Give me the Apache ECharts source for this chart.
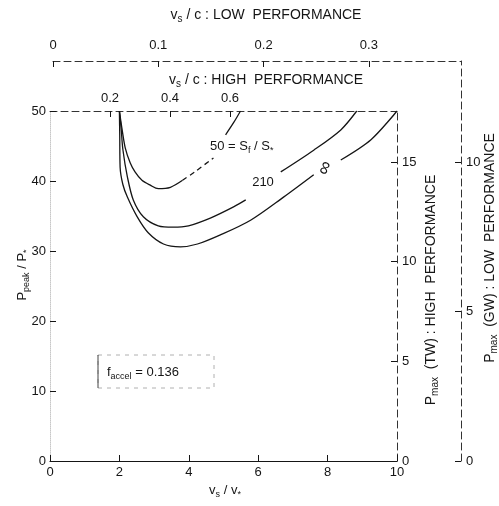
<!DOCTYPE html>
<html><head><meta charset="utf-8">
<script src="https://cdn.jsdelivr.net/npm/echarts@6/dist/echarts.min.js"></script>
<style>html,body{margin:0;padding:0;background:#fff}#c{width:499px;height:506px}</style>
</head><body><div id="c"></div>
<script>
// ---- data ----
// S_f/S_* = 50 curve (solid part, gap for label, top part)
const s50X = [2.0, 2.08, 2.17, 2.31, 2.45, 2.65, 2.89, 3.12, 3.47, 3.82, '-', 5.06, 5.3, 5.49];
const s50Y = [50, 47.3, 44.7, 42.6, 41.3, 40.1, 39.4, 38.9, 39.1, 40.1, '-', 46.6, 48.4, 50];
// dashed stretch of the 50 curve
const s50dashX = [3.82, 4.2, 4.71];
const s50dashY = [40.1, 41.4, 43.3];
// S_f/S_* = 210 curve
const s210X = [2.0, 2.05, 2.1, 2.23, 2.40, 2.69, 3.12, 3.55, 3.99, 4.62, 5.29, 5.64, '-', 6.65, 7.60, 8.38, 8.84];
const s210Y = [50, 47.5, 44.5, 40.6, 37.3, 34.9, 33.6, 33.4, 33.6, 34.7, 36.3, 37.3, '-', 41.3, 44.4, 47.3, 50];
// S_f/S_* = infinity curve
const sInfX = [2.0, 2.01, 2.02, 2.1, 2.23, 2.51, 2.83, 3.27, 3.76, 4.25, 4.91, 5.78, 6.73, 7.6, '-', 8.38, 9.25, 10];
const sInfY = [50, 46.5, 42.0, 39.5, 37.7, 34.9, 32.6, 31.0, 30.6, 31.0, 32.3, 34.4, 37.7, 40.9, '-', 43.0, 45.9, 50];
// tick labels
const bottomTicks = [0, 2, 4, 6, 8, 10];
const leftTicks = [0, 10, 20, 30, 40, 50];
const highPerfTicks = [0.2, 0.4, 0.6];
const lowPerfTicks = [0, 0.1, 0.2, 0.3];
const twTicks = [0, 5, 10, 15];
const gwTicks = [0, 5, 10];

const FF = "'Liberation Sans', Arial, sans-serif";
const INK = '#151515';
const pairs = (xs, ys) => xs.map((x, i) => (x === '-' ? ['-', '-'] : [x, ys[i]]));

const chart = echarts.init(document.getElementById('c'), null, {renderer: 'canvas'});

const lbl = (extra) => Object.assign({color: INK, fontSize: 13, fontFamily: FF}, extra || {});
const dashedLine = {show: true, onZero: false, lineStyle: {color: '#333', width: 1, type: [7, 4]}};

const rich = (size) => ({
  m: {fontSize: size, fontFamily: FF, fill: INK, color: INK, lineHeight: size + 5, verticalAlign: 'middle'},
  s: {fontSize: Math.round(size * 0.7), fontFamily: FF, fill: INK, color: INK, lineHeight: 9, verticalAlign: 'bottom'}
});

const txt = (x, y, text, size, rot, align, bg) => ({
  type: 'text', x: x, y: y, rotation: rot || 0, z: 100,
  style: Object.assign({
    text: text, rich: rich(size), align: align || 'center', verticalAlign: 'middle',
    fill: INK, font: size + 'px ' + FF
  }, bg ? {backgroundColor: '#fff', padding: [1, 2]} : {})
});

const lineSeries = (name, xs, ys, dashed) => ({
  name: name, type: 'line', xAxisIndex: 0, yAxisIndex: 0,
  data: pairs(xs, ys), showSymbol: false, smooth: 0.3, connectNulls: false,
  lineStyle: {color: INK, width: 1.3, type: dashed ? [5, 4] : 'solid'}, silent: true
});

chart.setOption({
  animation: false,
  backgroundColor: '#fff',
  grid: [
    {left: 50, right: 102, top: 111, bottom: 45},
    {left: 53, right: 38, top: 61, bottom: 45}
  ],
  xAxis: [
    {gridIndex: 0, type: 'value', position: 'bottom', min: 0, max: 10, interval: 2,
     axisLine: {show: true, onZero: false, lineStyle: {color: INK, width: 1.2}},
     axisTick: {show: true, inside: true, length: 6, lineStyle: {color: INK}},
     axisLabel: lbl({margin: 5}),
     splitLine: {show: false}},
    {gridIndex: 0, type: 'value', position: 'top', min: 0, max: 1.157,
     axisLine: dashedLine,
     axisTick: {show: true, inside: true, length: 6, customValues: highPerfTicks, lineStyle: {color: INK}},
     axisLabel: lbl({margin: 6, customValues: highPerfTicks, formatter: v => v.toFixed(1)}),
     splitLine: {show: false}},
    {gridIndex: 1, type: 'value', position: 'top', min: 0, max: 0.3875,
     axisLine: dashedLine,
     axisTick: {show: true, inside: true, length: 6, customValues: lowPerfTicks, lineStyle: {color: INK}},
     axisLabel: lbl({margin: 9, customValues: lowPerfTicks, formatter: v => (v === 0 ? '0' : v.toFixed(1))}),
     splitLine: {show: false}}
  ],
  yAxis: [
    {gridIndex: 0, type: 'value', position: 'left', min: 0, max: 50, interval: 10,
     axisLine: {show: true, onZero: false, lineStyle: {color: '#c8c8c8', width: 1, type: 'dotted'}},
     axisTick: {show: true, inside: true, length: 6, lineStyle: {color: INK}},
     axisLabel: lbl({margin: 4}),
     splitLine: {show: false}},
    {gridIndex: 0, type: 'value', position: 'right', min: 0, max: 17.56,
     axisLine: dashedLine,
     axisTick: {show: true, inside: true, length: 6, customValues: twTicks, lineStyle: {color: INK}},
     axisLabel: lbl({margin: 5, customValues: twTicks}),
     splitLine: {show: false}},
    {gridIndex: 1, type: 'value', position: 'right', min: 0, max: 13.38,
     axisLine: dashedLine,
     axisTick: {show: true, inside: true, length: 6, customValues: gwTicks, lineStyle: {color: INK}},
     axisLabel: lbl({margin: 5, customValues: gwTicks}),
     splitLine: {show: false}}
  ],
  series: [
    lineSeries('50', s50X, s50Y, false),
    lineSeries('50d', s50dashX, s50dashY, true),
    lineSeries('210', s210X, s210Y, false),
    lineSeries('inf', sInfX, sInfY, false)
  ],
  graphic: [
    txt(266, 15, '{m|v}{s|s}{m| / c : LOW  PERFORMANCE}', 14),
    txt(266, 80, '{m|v}{s|s}{m| / c : HIGH  PERFORMANCE}', 14),
    txt(225, 490, '{m|v}{s|s}{m| / v}{s|*}', 13),
    txt(22, 275, '{m|P}{s|peak}{m| / P}{s|*}', 13, Math.PI / 2),
    txt(431, 290, '{m|P}{s|max}{m|  (TW) : HIGH  PERFORMANCE}', 14, Math.PI / 2),
    txt(490, 248, '{m|P}{s|max}{m|  (GW) : LOW  PERFORMANCE}', 14, Math.PI / 2),
    txt(208, 146, '{m|50 = S}{s|f}{m| / S}{s|*}', 13, 0, 'left', true),
    txt(263, 182, '{m|210}', 13, 0, 'center', true),
    txt(325, 168, '{m|∞}', 19, 1.2, 'center', true),
    {type: 'line', z: 100, shape: {x1: 98, y1: 355, x2: 98, y2: 388}, style: {stroke: '#444', lineWidth: 1}},
    {type: 'rect', z: 99, shape: {x: 98, y: 355, width: 116, height: 33},
     style: {fill: 'none', stroke: '#b0b0b0', lineWidth: 1, lineDash: [4, 5]}},
    txt(107, 372, '{m|f}{s|accel}{m| = 0.136}', 13, 0, 'left')
  ]
});
</script>
</body></html>
